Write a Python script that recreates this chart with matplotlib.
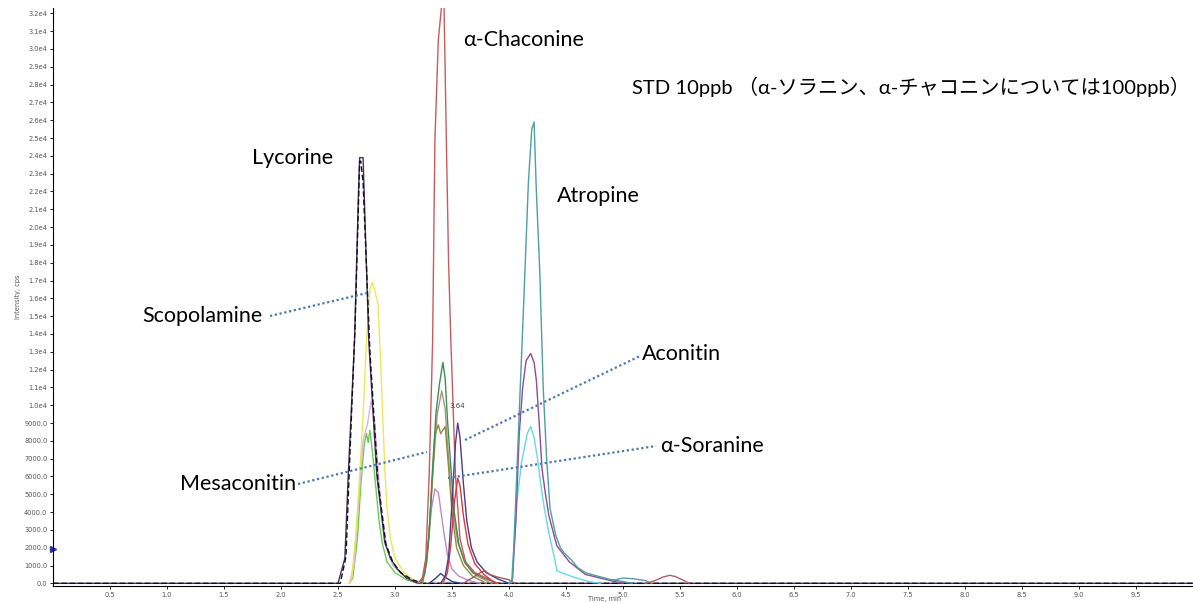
import matplotlib
matplotlib.use("Agg")
import matplotlib.pyplot as plt
from matplotlib.lines import Line2D

W, H = 1193, 603

# ---------------- data ----------------
lyc_t = [0, 2.50, 2.56, 2.59, 2.645, 2.68, 2.69, 2.71, 2.72, 2.77, 2.84, 2.91, 2.96, 3.02, 3.10, 3.20, 10.0]
lyc_i = [0, 0, 1400, 6100, 13600, 22000, 23900, 23900, 23900, 13600, 6100, 2300, 1400, 800, 300, 0, 0]

blk_t = [0, 2.52, 2.57, 2.60, 2.65, 2.69, 2.70, 2.72, 2.78, 2.85, 2.92, 2.98, 3.05, 3.15, 3.25, 10.0]
blk_i = [0, 0, 1500, 6500, 14500, 23700, 23700, 22500, 13000, 5800, 2200, 1200, 600, 200, 0, 0]

sco_t = [2.60, 2.62, 2.66, 2.69, 2.72, 2.75, 2.78, 2.80, 2.82, 2.85, 2.87, 2.89, 2.91, 2.93, 2.96, 3.00, 3.08, 3.20]
sco_i = [0, 300, 3000, 6100, 9500, 13600, 16500, 16900, 16500, 15700, 13000, 9800, 6500, 4200, 2500, 1400, 600, 0]

lgr_t = [2.60, 2.63, 2.67, 2.70, 2.73, 2.75, 2.765, 2.78, 2.80, 2.83, 2.86, 2.89, 2.93, 3.00, 3.10, 3.20]
lgr_i = [0, 300, 2500, 5500, 7800, 8400, 7900, 8600, 7500, 5500, 3500, 2200, 1200, 600, 200, 0]

lpk_t = [2.60, 2.64, 2.68, 2.72, 2.76, 2.79, 2.82, 2.85, 2.88, 2.92, 2.98, 3.10, 3.20]
lpk_i = [0, 1000, 4500, 8000, 9000, 10200, 9200, 6500, 4000, 2200, 1000, 300, 0]

cha_t = [3.20, 3.24, 3.27, 3.30, 3.33, 3.35, 3.38, 3.41, 3.43, 3.45, 3.47, 3.49, 3.53, 3.57, 3.62, 3.70, 3.80, 3.90]
cha_i = [0, 300, 1400, 6100, 13600, 24900, 30500, 32500, 32500, 25000, 18000, 13600, 6100, 2500, 1200, 600, 300, 0]

dgr_t = [3.22, 3.26, 3.30, 3.33, 3.36, 3.39, 3.42, 3.44, 3.46, 3.49, 3.52, 3.56, 3.61, 3.68, 3.78, 3.90]
dgr_i = [0, 500, 2800, 6500, 9600, 11200, 12400, 11500, 9200, 6500, 4000, 2200, 1200, 600, 300, 0]

olv_t = [3.24, 3.28, 3.31, 3.35, 3.38, 3.40, 3.42, 3.44, 3.47, 3.50, 3.54, 3.60, 3.68, 3.80]
olv_i = [0, 1200, 4000, 8300, 8900, 8400, 8600, 8800, 6500, 4000, 2000, 1000, 400, 0]

gbr_t = [3.24, 3.29, 3.33, 3.37, 3.41, 3.44, 3.47, 3.50, 3.55, 3.62, 3.72, 3.85]
gbr_i = [0, 2000, 6000, 9500, 10800, 9800, 7000, 4500, 2300, 1100, 400, 0]

vio_t = [3.24, 3.28, 3.32, 3.35, 3.38, 3.40, 3.43, 3.46, 3.50, 3.56, 3.65, 3.75]
vio_i = [0, 1500, 4200, 5300, 5100, 4200, 2800, 1600, 800, 400, 150, 0]

dpu_t = [3.40, 3.44, 3.47, 3.50, 3.53, 3.55, 3.57, 3.60, 3.63, 3.67, 3.72, 3.80, 3.90, 4.00]
dpu_i = [0, 400, 1500, 4500, 7800, 9000, 8200, 5600, 3500, 2000, 1200, 600, 250, 0]

red_t = [3.42, 3.46, 3.49, 3.52, 3.55, 3.57, 3.60, 3.64, 3.70, 3.78, 3.88]
red_i = [0, 600, 2200, 4500, 5900, 5500, 3800, 2200, 1100, 500, 0]

nav_t = [3.30, 3.36, 3.40, 3.44, 3.50, 3.58]
nav_i = [0, 300, 550, 350, 100, 0]

brn_t = [3.60, 3.70, 3.76, 3.79, 3.83, 3.90, 4.00, 4.05]
brn_i = [0, 400, 650, 700, 500, 350, 200, 0]

atr_t = [4.00, 4.03, 4.07, 4.10, 4.13, 4.17, 4.20, 4.22, 4.24, 4.27, 4.30, 4.33, 4.36, 4.41, 4.45, 4.50, 4.55, 4.60, 4.67, 4.75, 4.88, 5.00, 5.08]
atr_i = [0, 200, 6400, 11200, 15900, 22500, 25500, 25900, 22000, 17500, 11000, 7000, 4200, 2700, 2000, 1600, 1300, 900, 600, 450, 230, 100, 0]

pur_t = [4.00, 4.03, 4.06, 4.09, 4.12, 4.15, 4.19, 4.22, 4.24, 4.27, 4.29, 4.32, 4.35, 4.42, 4.53, 4.67, 4.88, 5.00]
pur_i = [0, 200, 3500, 8400, 11000, 12500, 12900, 12400, 11400, 8500, 6400, 5000, 3800, 2100, 1200, 500, 170, 0]

cya_t = [4.00, 4.02, 4.05, 4.07, 4.11, 4.16, 4.19, 4.22, 4.25, 4.28, 4.31, 4.35, 4.40, 4.42, 4.50, 4.59, 4.70, 4.80]
cya_i = [0, 100, 2500, 4600, 6800, 8400, 8800, 8200, 7000, 5500, 4200, 2800, 1400, 700, 500, 300, 100, 0]

bmp_t = [5.20, 5.28, 5.35, 5.41, 5.46, 5.52, 5.58]
bmp_i = [0, 150, 350, 450, 380, 200, 0]

tbm_t = [4.90, 5.00, 5.10, 5.20, 5.25]
tbm_i = [150, 300, 250, 150, 0]

xticks = [0.5, 1.0, 1.5, 2.0, 2.5, 3.0, 3.5, 4.0, 4.5, 5.0, 5.5, 6.0, 6.5, 7.0, 7.5, 8.0, 8.5, 9.0, 9.5]
yticks = list(range(0, 32001, 1000))

# ---------------- figure ----------------
fig = plt.figure(figsize=(W / 100, H / 100), dpi=100)
ax = fig.add_axes([53 / W, 17 / H, 1 - 53 / W, (586 - 8) / H])

traces = [
    (lgr_t, lgr_i, "#6acb55", "-"),
    (lpk_t, lpk_i, "#d8b4dc", "-"),
    (sco_t, sco_i, "#e9e85c", "-"),
    (lyc_t, lyc_i, "#46306a", "-"),
    (blk_t, blk_i, "#111111", (0, (4, 2))),
    (nav_t, nav_i, "#33407a", "-"),
    (vio_t, vio_i, "#c487c8", "-"),
    (gbr_t, gbr_i, "#a89484", "-"),
    (olv_t, olv_i, "#8e8c3e", "-"),
    (dgr_t, dgr_i, "#3f8d52", "-"),
    (cha_t, cha_i, "#c95a5e", "-"),
    (red_t, red_i, "#e0383a", "-"),
    (dpu_t, dpu_i, "#4e3c8e", "-"),
    (brn_t, brn_i, "#a05a5a", "-"),
    (cya_t, cya_i, "#66d8e6", "-"),
    (pur_t, pur_i, "#8e4c94", "-"),
    (atr_t, atr_i, "#4f9ea0", "-"),
    (tbm_t, tbm_i, "#5a9aa8", "-"),
    (bmp_t, bmp_i, "#b06060", "-"),
]
for t, i, c, ls in traces:
    ax.plot(t, i, color=c, lw=1.0, ls=ls)

ax.plot([0], [1900], marker=">", color="#2a3a9a", ms=4, clip_on=False)

ax.set_xlim(0, 10.0)
ax.set_ylim(-150, 32300)
ax.set_xticks(xticks)
ax.set_xticklabels([f"{v:.1f}" for v in xticks])
ax.set_yticks(yticks)
ax.set_yticklabels([f"{v/1e4:.1f}e4" if v >= 10000 else f"{v:.1f}" for v in yticks])
ax.tick_params(labelsize=4.8, labelcolor="#555555", length=2, width=0.6, pad=2)
for s in ("top", "right"):
    ax.spines[s].set_visible(False)
for s in ("left", "bottom"):
    ax.spines[s].set_linewidth(0.8)
ax.set_ylabel("Intensity, cps", fontsize=4.8, color="#555555", labelpad=2)
ax.set_xlabel("Time, min", fontsize=4.8, color="#555555", labelpad=1)
ax.xaxis.set_label_coords(0.484, -0.018)

ax.text(3.55, 9800, "3.64", fontsize=5, color="#444444", ha="center", va="bottom")

fam = ["Lato", "Noto Sans CJK JP", "DejaVu Sans"]


def ftext(xp, yp, s, fs=15.5):
    fig.text(xp / W, 1 - yp / H, s, fontsize=fs, family=fam, ha="left", va="center", color="black")


ftext(252, 158, "Lycorine")
ftext(463, 40, "α-Chaconine")
ftext(632, 87, "STD 10ppb （α-ソラニン、α-チャコニンについては100ppb）", fs=14.6)
ftext(557, 196, "Atropine")
ftext(142, 316, "Scopolamine")
ftext(642, 354, "Aconitin")
ftext(660, 446, "α-Soranine")
ftext(180, 484, "Mesaconitin")


def dotted(x0, y0, x1, y1):
    fig.add_artist(Line2D([x0 / W, x1 / W], [1 - y0 / H, 1 - y1 / H], color="#4a78b0",
                          lw=1.6, ls=(0, (1, 1.2)), transform=fig.transFigure))


dotted(270, 316, 367, 293)
dotted(298, 484, 427, 452)
dotted(465, 440, 640, 356)
dotted(448, 478, 656, 446)

fig.savefig("out.png", dpi=100)
